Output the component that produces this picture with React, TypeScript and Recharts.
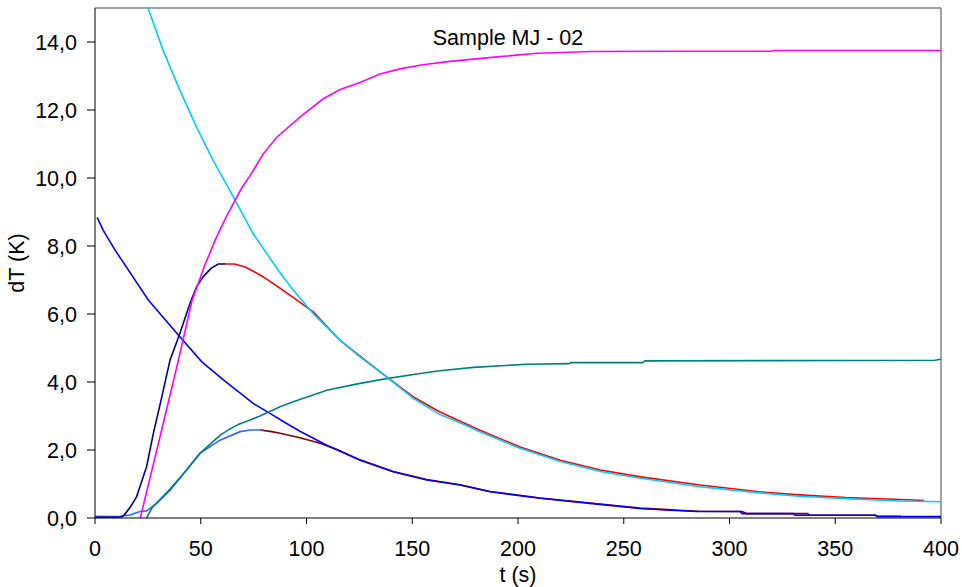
import React from 'react';
import { LineChart, Line, XAxis, YAxis, ReferenceLine } from 'recharts';

// t (s), dT (K) pairs
const magentaPts: [number, number][] = [
  [21.4, 0], [30, 2.2], [38.7, 4.45], [45.9, 6.4], [52, 7.45], [57, 8.2], [62, 8.85],
  [66.2, 9.34], [69.5, 9.72], [73.3, 10.07], [79.6, 10.71], [85.9, 11.2], [96.9, 11.79],
  [107.9, 12.33], [116, 12.6], [125.3, 12.81], [134.8, 13.06], [144.2, 13.21], [155, 13.33],
  [167.8, 13.43], [191.5, 13.57], [209, 13.67], [235, 13.72], [276.6, 13.73], [320, 13.73],
  [321, 13.75], [400, 13.75],
];
const cyanPts: [number, number][] = [
  [22, 15.5], [25.2, 14.97], [32.3, 13.74], [40.2, 12.57], [48.1, 11.49], [55.9, 10.51],
  [63.8, 9.63], [74.8, 8.36], [86.7, 7.28], [93.8, 6.7], [103.2, 6.01], [115.8, 5.23],
  [125.3, 4.74], [137.9, 4.15], [150.5, 3.52], [163.1, 3.04], [172.6, 2.8], [182, 2.54],
  [201, 2.05], [220, 1.66], [239, 1.37], [258, 1.17], [286, 0.92], [314, 0.74], [333, 0.64],
  [355, 0.57], [381, 0.5], [400, 0.48],
];
const navyPts: [number, number][] = [
  [0, 0.02], [12.6, 0.03], [14, 0.1], [17, 0.35], [19.7, 0.63], [24.4, 1.51], [27.6, 2.49],
  [31, 3.4], [35.5, 4.65], [40.2, 5.44], [44.9, 6.31], [48, 6.8], [51.2, 7.1], [55, 7.35],
  [58.3, 7.47], [62, 7.47],
];
const redPts: [number, number][] = [
  [62, 7.47], [66, 7.47], [70.9, 7.38], [74.5, 7.27], [79.6, 7.09], [86.7, 6.79],
  [95, 6.43], [103.2, 6.06], [115.8, 5.23], [125.3, 4.76], [137.9, 4.15], [150.5, 3.56],
  [163.1, 3.12], [182, 2.58], [201, 2.09], [220, 1.7], [239, 1.41], [258, 1.21], [286, 0.97],
  [314, 0.77], [333, 0.68], [355, 0.6], [387, 0.53], [392, 0.51],
];
const bluePts: [number, number][] = [
  [1, 8.84], [3.9, 8.46], [9.5, 7.88], [25.2, 6.41], [39.4, 5.38], [50.4, 4.6], [60.7, 4.06],
  [74.8, 3.37], [84.3, 3.02], [90, 2.8], [96.9, 2.55], [109.6, 2.14], [125.3, 1.7],
  [141, 1.36], [156.8, 1.12], [172.6, 0.97], [186.8, 0.77], [210.4, 0.58], [234, 0.43],
  [257.7, 0.28], [272, 0.23], [284.5, 0.19], [305, 0.19], [306, 0.13], [330, 0.13],
  [331, 0.08], [369, 0.08], [370, 0.04], [400, 0.04],
];
const brownPts: [number, number][] = [
  [78, 2.59], [83.5, 2.54], [87.5, 2.49], [96.9, 2.36], [106.4, 2.2], [115, 2.0], [125.3, 1.71],
  [141, 1.37], [156.8, 1.13], [172.6, 0.98], [186.8, 0.78], [210.4, 0.59], [234, 0.44],
  [257.7, 0.29], [285, 0.2], [306, 0.19], [308, 0.13], [337, 0.13], [338, 0.08], [369, 0.08],
  [370, 0.05], [381, 0.05],
];
const lightBluePts: [number, number][] = [
  [0, 0.05], [9.5, 0.04], [12, 0.05], [16.5, 0.09], [21.3, 0.19], [24.4, 0.21], [29.2, 0.43],
  [35.5, 0.82], [43.3, 1.41], [49.6, 1.9], [59.1, 2.29], [68.6, 2.54], [73.3, 2.59], [80, 2.59],
];
const tealPts: [number, number][] = [
  [24.4, 0], [27, 0.3], [29.2, 0.45], [35.5, 0.85], [43.3, 1.41], [49.6, 1.9], [55, 2.2],
  [59.1, 2.43], [63.8, 2.62], [68, 2.76], [73.3, 2.88], [78, 3.0], [87.5, 3.27], [93.8, 3.42],
  [109.6, 3.76], [125.3, 3.96], [137.9, 4.1], [153.7, 4.25], [163.1, 4.33], [178.9, 4.43],
  [204.1, 4.52], [224, 4.54], [225, 4.57], [259, 4.57], [260, 4.62], [397, 4.64], [400, 4.67],
];

const xTicks = [0, 50, 100, 150, 200, 250, 300, 350, 400];
const yTicks = [0, 2, 4, 6, 8, 10, 12, 14];

const toRows = (pts: [number, number][]) => pts.map(([t, v]) => ({ t, v }));

const series = [
  { name: 'brown', pts: brownPts, color: '#800000' },
  { name: 'blue', pts: bluePts, color: '#0000FF' },
  { name: 'lightblue', pts: lightBluePts, color: '#3366FF' },
  { name: 'teal', pts: tealPts, color: '#008080' },
  { name: 'navy', pts: navyPts, color: '#000080' },
  { name: 'red', pts: redPts, color: '#FF0000' },
  { name: 'cyan', pts: cyanPts, color: '#00CCFF' },
  { name: 'magenta', pts: magentaPts, color: '#FF00FF' },
];

const font = '"Liberation Sans", Arial, sans-serif';
const tickStyle = { fill: '#000', fontSize: 21.5, fontFamily: font };

export default function App() {
  return (
    <div style={{ position: 'absolute', left: 0, top: 0, background: '#fff' }}>
      <LineChart width={962} height={587} margin={{ top: 8, right: 21, bottom: 0, left: 0 }}>
        <XAxis
          type="number"
          dataKey="t"
          domain={[0, 400]}
          ticks={xTicks}
          allowDuplicatedCategory={false}
          height={69}
          tickSize={6}
          tickMargin={17}
          stroke="#000"
          tick={tickStyle}
          label={{ value: 't (s)', position: 'insideBottom', offset: 5, fill: '#000', fontSize: 21.5, fontFamily: font }}
        />
        <YAxis
          type="number"
          domain={[0, 15]}
          allowDataOverflow
          ticks={yTicks}
          width={95}
          tickSize={8}
          tickMargin={10}
          stroke="#000"
          tick={tickStyle}
          tickFormatter={(v: number) => v.toFixed(1).replace('.', ',')}
        />
        <ReferenceLine y={15} stroke="#808080" strokeWidth={1.5} />
        <ReferenceLine x={400} stroke="#808080" strokeWidth={1.5} />
        {series.map(s => (
          <Line
            key={s.name}
            data={toRows(s.pts)}
            dataKey="v"
            type="linear"
            stroke={s.color}
            strokeWidth={1.6}
            dot={false}
            activeDot={false}
            isAnimationActive={false}
          />
        ))}
        <text x={508} y={45} textAnchor="middle" fontSize={21.5} fontFamily={font} fill="#000">
          Sample MJ - 02
        </text>
        <text x={24} y={263} textAnchor="middle" fontSize={21.5} fontFamily={font} fill="#000" transform="rotate(-90, 24, 263)">
          dT (K)
        </text>
      </LineChart>
    </div>
  );
}
